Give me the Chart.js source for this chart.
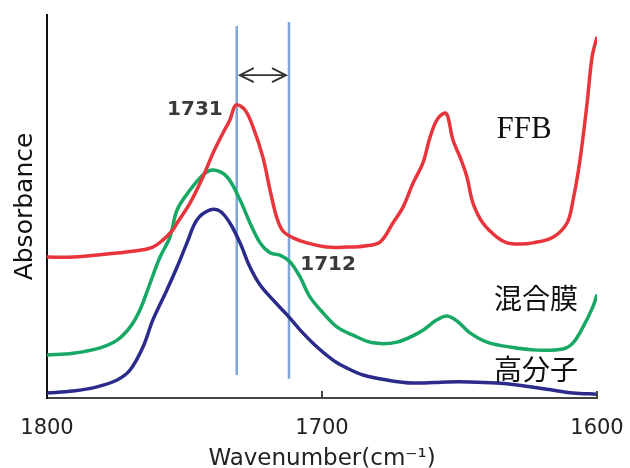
<!DOCTYPE html>
<html>
<head>
<meta charset="utf-8">
<script src="https://cdn.jsdelivr.net/npm/chart.js@4.4.1/dist/chart.umd.min.js"></script>
<style>
html, body { margin: 0; padding: 0; background: #fff; }
</style>
</head>
<body>
<canvas id="chart" width="630" height="468"></canvas>
<script>
const xTicks = [1800, 1700, 1600];
const peakLines = [1731, 1712];
const peakLineBottom = [6.0, 5.0];
const peakLineTop = [97.1, 98.2];
const arrowLevel = 84.3;

const ffbWave = [1800, 1790.5, 1778.2, 1766.2, 1761.5, 1757.8, 1754.2, 1752.7, 1748.0, 1743.3, 1739.6, 1736.0, 1733.5, 1731.3, 1728.0, 1725.1, 1721.5, 1718.9, 1716.4, 1714.2, 1710.5, 1705.5, 1698.2, 1690.9, 1684.4, 1678.9, 1674.2, 1670.5, 1666.9, 1663.3, 1660.7, 1658.2, 1655.3, 1654.2, 1652.4, 1649.8, 1647.3, 1645.1, 1641.5, 1636.4, 1632.7, 1628.0, 1623.3, 1616.0, 1610.9, 1608.7, 1606.2, 1603.6, 1601.8, 1600];
const ffbAbs = [36.8, 36.8, 37.6, 38.6, 39.4, 41.3, 43.9, 45.7, 50.9, 57.7, 64.0, 69.2, 72.6, 76.5, 75.2, 70.8, 62.9, 54.3, 47.0, 43.6, 41.8, 40.5, 39.4, 39.4, 39.7, 40.7, 45.7, 49.9, 56.1, 61.4, 68.1, 72.6, 74.4, 73.4, 67.4, 62.9, 57.7, 50.9, 45.7, 42.0, 40.5, 40.2, 40.5, 42.0, 45.7, 51.7, 62.1, 77.0, 89.0, 94.3];

const mixWave = [1800, 1790.5, 1780.7, 1774.5, 1769.8, 1766.2, 1762.5, 1758.9, 1755.3, 1752.7, 1748.0, 1743.3, 1739.6, 1734.5, 1729.8, 1726.2, 1722.5, 1718.9, 1715.3, 1711.6, 1708.0, 1704.4, 1699.6, 1694.5, 1688.7, 1681.5, 1672.7, 1664.4, 1658.2, 1654.5, 1650.9, 1646.2, 1640.0, 1631.6, 1621.8, 1612.4, 1608.7, 1605.1, 1601.5, 1600];
const mixAbs = [11.2, 11.7, 13.1, 15.1, 18.5, 23.0, 30.0, 36.8, 42.0, 49.1, 54.3, 58.2, 59.5, 57.7, 51.7, 45.7, 40.5, 37.9, 37.3, 35.5, 31.6, 26.4, 22.2, 18.5, 16.4, 14.4, 14.6, 17.2, 20.4, 21.4, 20.1, 17.0, 14.6, 13.3, 12.5, 12.8, 14.4, 18.5, 23.8, 27.0];

const polyWave = [1800, 1790.5, 1781.8, 1774.5, 1769.8, 1765.1, 1761.5, 1756.4, 1752.7, 1749.1, 1745.5, 1740.7, 1737.1, 1733.5, 1729.8, 1726.2, 1722.5, 1717.8, 1712.7, 1708.0, 1701.8, 1696.0, 1690.9, 1685.1, 1676.4, 1666.9, 1654.5, 1646.2, 1636.4, 1629.1, 1618.2, 1608.7, 1600];
const polyAbs = [1.3, 1.8, 2.9, 4.7, 7.3, 13.3, 20.4, 28.2, 34.2, 40.5, 46.5, 49.1, 48.8, 45.7, 40.5, 34.2, 29.5, 25.6, 21.7, 17.8, 13.3, 9.9, 7.8, 6.0, 4.7, 3.9, 4.2, 4.2, 3.9, 3.4, 2.3, 1.3, 1.0];

const noteText = ['1731', '1712', 'FFB', '混合膜', '高分子'];

function toPoints(wave, abs) {
    return wave.map((w, i) => ({x: w, y: abs[i]}));
}

function curve(label, wave, abs, color) {
    return {
        label: label,
        data: toPoints(wave, abs),
        borderColor: color,
        borderWidth: 3.5,
        pointRadius: 0,
        tension: 0.35,
        fill: false
    };
}

function peakLine(i) {
    return {
        label: 'line' + peakLines[i],
        data: [{x: peakLines[i], y: peakLineBottom[i]}, {x: peakLines[i], y: peakLineTop[i]}],
        borderColor: '#7fa6d6',
        borderWidth: 2.5,
        pointRadius: 0
    };
}

// where the notes sit, in data units
const notePlace = [
    {x: 1746.2, y: 75.2, font: 'bold 20px "DejaVu Sans"', color: '#3a3a3a'},
    {x: 1697.8, y: 34.7, font: 'bold 20px "DejaVu Sans"', color: '#3a3a3a'},
    {x: 1626.5, y: 70.0, font: '31px "Liberation Serif"', color: '#111'},
    {x: 1622.2, y: 26.1, font: '28px "Noto Sans CJK JP"', color: '#111'},
    {x: 1622.2, y: 7.6, font: '28px "Noto Sans CJK JP"', color: '#111'}
];

const annotate = {
    id: 'annotate',
    afterDatasetsDraw(chart) {
        const ctx = chart.ctx;
        const x = chart.scales.x;
        const y = chart.scales.y;
        ctx.save();

        ctx.strokeStyle = '#444';
        ctx.lineWidth = 2;
        [1700, 1600].forEach(v => {
            const px = x.getPixelForValue(v);
            ctx.beginPath();
            ctx.moveTo(px, y.bottom);
            ctx.lineTo(px, y.bottom - 7);
            ctx.stroke();
        });

        const ay = y.getPixelForValue(arrowLevel);
        const x1 = x.getPixelForValue(peakLines[0]) + 3;
        const x2 = x.getPixelForValue(peakLines[1]) - 3;
        ctx.strokeStyle = '#333';
        ctx.lineWidth = 1.8;
        ctx.beginPath();
        ctx.moveTo(x1, ay);
        ctx.lineTo(x2, ay);
        ctx.moveTo(x1 + 14, ay - 7);
        ctx.lineTo(x1, ay);
        ctx.lineTo(x1 + 14, ay + 7);
        ctx.moveTo(x2 - 14, ay - 7);
        ctx.lineTo(x2, ay);
        ctx.lineTo(x2 - 14, ay + 7);
        ctx.stroke();

        ctx.textAlign = 'center';
        ctx.textBaseline = 'middle';
        noteText.forEach((t, i) => {
            const p = notePlace[i];
            ctx.font = p.font;
            ctx.fillStyle = p.color;
            ctx.fillText(t, x.getPixelForValue(p.x), y.getPixelForValue(p.y));
        });
        ctx.restore();
    }
};

const ctx = document.getElementById('chart').getContext('2d');
new Chart(ctx, {
    type: 'line',
    data: {
        datasets: [
            curve('FFB', ffbWave, ffbAbs, '#e8353b'),
            curve('混合膜', mixWave, mixAbs, '#17a866'),
            curve('高分子', polyWave, polyAbs, '#2b2b8c'),
            peakLine(0),
            peakLine(1)
        ]
    },
    options: {
        responsive: false,
        animation: false,
        layout: {
            padding: {top: 15, right: 33, bottom: 0, left: 0}
        },
        plugins: {
            legend: {display: false},
            tooltip: {enabled: false}
        },
        scales: {
            x: {
                type: 'linear',
                reverse: true,
                min: 1600,
                max: 1800,
                afterBuildTicks: scale => {
                    scale.ticks = xTicks.map(v => ({value: v}));
                },
                afterFit: scale => {
                    scale.height = 70;
                    scale.paddingLeft = 0;
                    scale.paddingRight = 0;
                },
                grid: {display: false},
                border: {display: true, color: '#444', width: 2},
                ticks: {
                    padding: 10,
                    color: '#222',
                    font: {family: 'DejaVu Sans', size: 21},
                    callback: v => String(v)
                },
                title: {
                    display: true,
                    text: 'Wavenumber(cm⁻¹)',
                    color: '#222',
                    padding: 0,
                    font: {family: 'DejaVu Sans', size: 23, lineHeight: 0.78}
                }
            },
            y: {
                min: 0,
                max: 100,
                afterFit: scale => {
                    scale.width = 47;
                },
                grid: {display: false},
                border: {display: true, color: '#111', width: 2},
                ticks: {display: false},
                title: {
                    display: true,
                    text: 'Absorbance',
                    color: '#111',
                    padding: {top: 10, bottom: 0},
                    font: {family: 'DejaVu Sans', size: 25}
                }
            }
        }
    },
    plugins: [annotate]
});
</script>
</body>
</html>
